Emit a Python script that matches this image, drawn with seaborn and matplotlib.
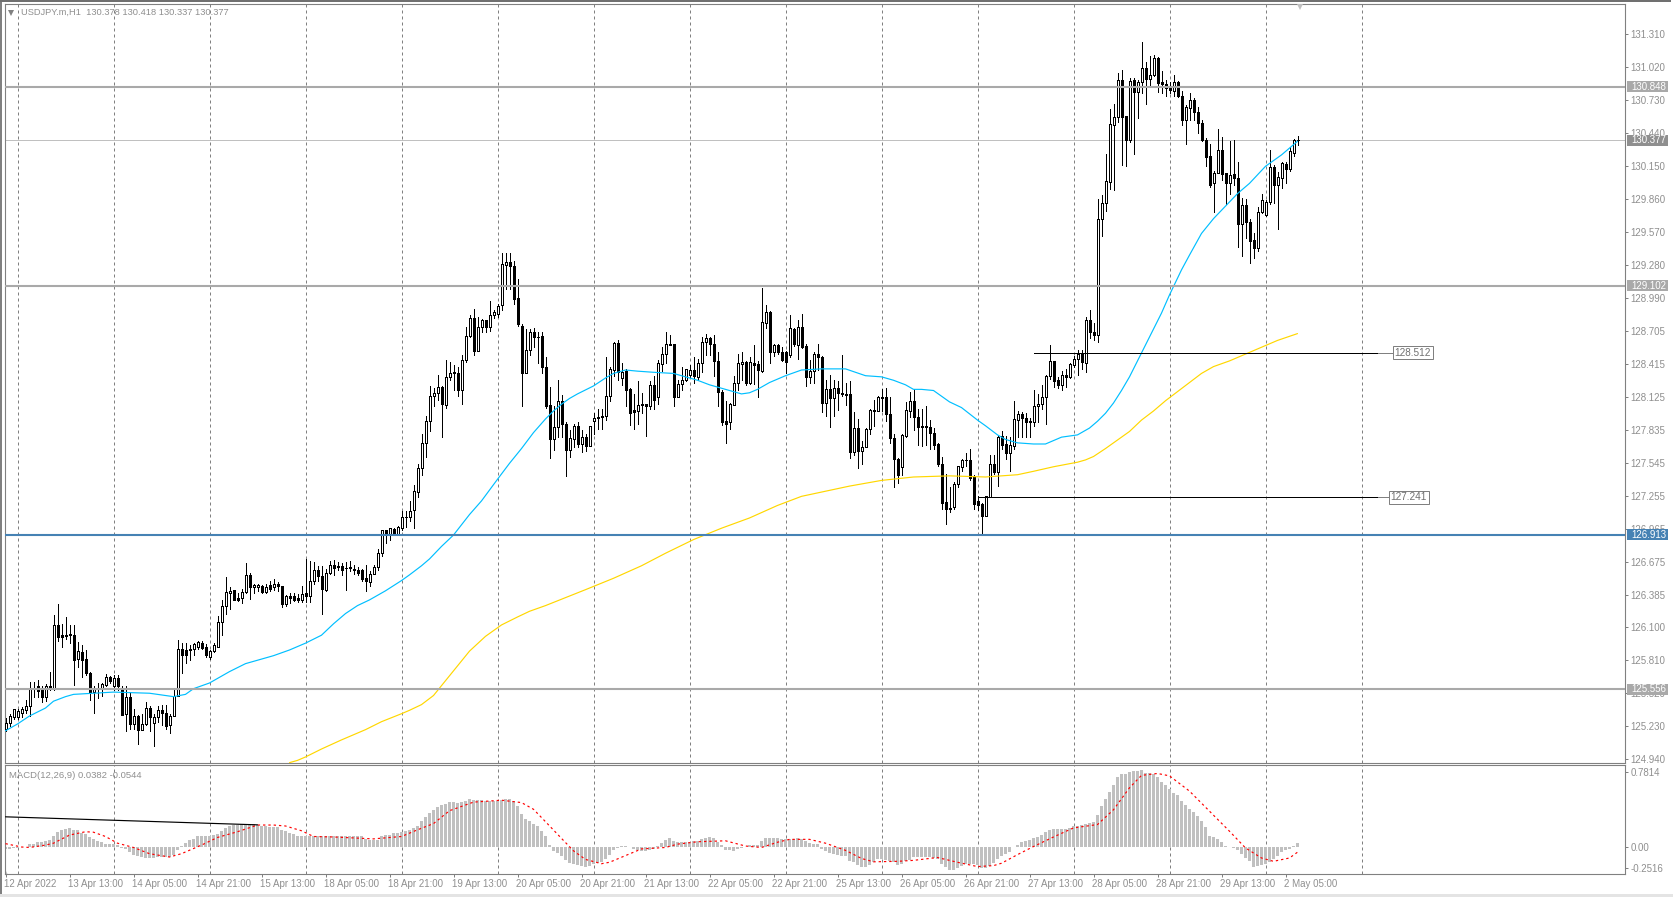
import numpy as np
import pandas as pd
import seaborn as sns
import matplotlib
matplotlib.use("Agg")
import matplotlib.pyplot as plt
from matplotlib.patches import Rectangle
from matplotlib.transforms import ScaledTranslation

# USDJPY.m H1 candles
opens = [125.21,125.26,125.31,125.31,125.35,125.37,125.41,125.57,125.58,125.56,
125.49,125.58,125.57,126.12,126.03,126.03,126.04,126.03,125.82,125.88,
125.82,125.70,125.53,125.57,125.57,125.59,125.66,125.58,125.65,125.56,
125.34,125.49,125.25,125.32,125.20,125.25,125.39,125.26,125.31,125.37,
125.35,125.24,125.32,125.50,125.91,125.90,125.91,125.91,125.93,125.96,
125.93,125.84,125.89,125.93,126.15,126.29,126.40,126.43,126.36,126.36,
126.41,126.56,126.45,126.45,126.46,126.41,126.47,126.45,126.48,126.46,
126.30,126.37,126.37,126.36,126.34,126.40,126.37,126.51,126.60,126.55,
126.43,126.58,126.65,126.63,126.64,126.62,126.63,126.61,126.60,126.60,
126.53,126.50,126.57,126.63,126.75,126.95,126.92,126.96,126.92,126.97,
127.07,127.07,127.13,127.29,127.50,127.72,127.91,128.13,128.16,128.21,
128.05,128.30,128.33,128.33,128.18,128.45,128.66,128.82,128.53,128.74,
128.80,128.74,128.84,128.85,128.93,129.28,129.31,129.27,128.99,128.75,
128.33,128.54,128.69,128.65,128.66,128.39,128.05,127.75,127.86,128.09,
127.89,127.66,127.75,127.87,127.71,127.77,127.69,127.91,127.95,127.95,
127.96,128.13,128.36,128.60,128.29,128.35,128.19,128.01,128.00,128.06,
128.06,128.04,128.23,128.12,128.41,128.50,128.59,128.59,128.12,128.24,
128.27,128.32,128.36,128.30,128.42,128.61,128.64,128.59,128.44,128.17,
127.91,127.90,128.05,128.25,128.41,128.43,128.25,128.42,128.41,128.35,
128.77,128.87,128.52,128.58,128.52,128.52,128.49,128.72,128.58,128.74,
128.57,128.30,128.35,128.50,128.47,128.07,128.19,128.11,128.20,128.16,
128.15,128.15,127.64,127.85,127.65,127.68,127.84,128.01,128.00,128.12,
128.12,127.97,127.76,127.58,127.51,127.78,128.00,128.09,127.95,127.87,
127.87,127.86,127.81,127.71,127.53,127.20,127.15,127.16,127.36,127.51,
127.57,127.57,127.42,127.21,127.18,127.08,127.24,127.53,127.46,127.78,
127.71,127.63,127.69,127.92,127.97,127.94,127.91,127.90,128.04,128.06,
128.12,128.31,128.44,128.27,128.23,128.32,128.30,128.40,128.46,128.51,
128.42,128.80,128.69,128.67,129.69,129.83,130.01,130.51,130.58,130.91,
130.59,130.38,130.91,130.80,130.89,131.01,130.92,130.95,131.10,130.89,
130.87,130.84,130.81,130.89,130.77,130.56,130.66,130.73,130.63,130.53,
130.38,130.24,130.00,130.09,130.29,130.09,130.00,130.08,130.05,129.64,
129.81,129.66,129.50,129.43,129.75,129.72,129.84,130.14,129.99,130.05,
130.17,130.13,130.27,130.378]

highs = [125.30,125.34,125.38,125.38,125.40,125.46,125.62,125.62,125.64,125.58,
125.60,125.71,126.21,126.30,126.13,126.19,126.12,126.12,125.97,125.94,
125.90,125.71,125.58,125.61,125.61,125.69,125.67,125.68,125.68,125.58,
125.58,125.53,125.38,125.33,125.34,125.44,125.41,125.34,125.41,125.42,
125.42,125.34,125.57,125.99,125.96,125.96,125.94,125.96,125.98,125.98,
125.95,125.90,125.96,126.20,126.34,126.54,126.45,126.43,126.40,126.44,
126.66,126.58,126.48,126.48,126.47,126.48,126.51,126.52,126.50,126.46,
126.38,126.40,126.40,126.39,126.46,126.70,126.68,126.67,126.64,126.64,
126.61,126.68,126.69,126.67,126.66,126.67,126.68,126.65,126.63,126.61,
126.65,126.59,126.65,126.79,126.95,126.95,126.97,126.97,126.99,127.12,
127.12,127.21,127.35,127.53,127.80,127.96,128.22,128.20,128.32,128.22,
128.45,128.43,128.40,128.39,128.49,128.74,128.84,128.90,128.83,128.81,
128.80,128.97,128.89,128.94,129.39,129.39,129.39,129.32,129.16,128.76,
128.72,128.72,128.73,128.69,128.69,128.47,128.21,128.04,128.27,128.14,
127.90,127.83,127.89,127.90,127.83,127.80,127.87,127.98,128.02,128.02,
128.47,128.39,128.61,128.62,128.42,128.37,128.20,128.15,128.26,128.16,
128.06,128.26,128.31,128.45,128.56,128.69,128.67,128.59,128.27,128.39,
128.37,128.40,128.47,128.46,128.65,128.68,128.65,128.67,128.52,128.18,
128.09,128.07,128.31,128.50,128.52,128.44,128.47,128.58,128.44,129.08,
128.93,128.88,128.59,128.59,128.56,128.53,128.84,128.73,128.80,128.85,
128.59,128.45,128.52,128.59,128.48,128.27,128.32,128.27,128.26,128.49,
128.25,128.26,127.99,127.93,127.74,127.85,128.02,128.10,128.13,128.19,
128.20,128.12,127.80,127.59,127.80,128.08,128.17,128.19,128.02,128.02,
128.04,127.92,127.85,127.72,127.60,127.45,127.33,127.38,127.52,127.58,
127.63,127.67,127.44,127.25,127.19,127.25,127.61,127.61,127.78,127.82,
127.78,127.77,128.09,128.00,127.99,127.98,127.94,128.18,128.15,128.23,
128.32,128.58,128.44,128.30,128.35,128.37,128.42,128.48,128.54,128.54,
128.83,128.89,128.77,129.86,129.90,130.26,130.65,130.70,130.97,131.00,
130.59,130.93,130.93,130.91,131.24,131.07,131.12,131.13,131.11,130.99,
130.91,130.89,130.95,130.90,130.81,130.69,130.79,130.75,130.67,130.56,
130.40,130.35,130.11,130.48,130.41,130.09,130.37,130.38,130.19,129.87,
129.86,129.69,129.56,129.79,129.91,129.85,130.29,130.16,130.10,130.19,
130.19,130.32,130.39,130.418]

lows = [125.19,125.23,125.29,125.29,125.31,125.35,125.32,125.49,125.49,125.44,
125.45,125.55,125.55,125.98,125.93,126.00,125.96,125.59,125.75,125.66,
125.68,125.46,125.35,125.48,125.50,125.58,125.61,125.55,125.55,125.33,
125.19,125.21,125.21,125.07,125.20,125.24,125.19,125.06,125.27,125.24,
125.21,125.17,125.32,125.50,125.70,125.79,125.81,125.86,125.91,125.91,
125.84,125.82,125.88,125.93,126.03,126.22,126.26,126.34,126.33,126.31,
126.40,126.35,126.40,126.42,126.40,126.40,126.42,126.43,126.42,126.28,
126.29,126.31,126.33,126.32,126.32,126.32,126.32,126.48,126.51,126.22,
126.42,126.57,126.56,126.60,126.56,126.43,126.59,126.57,126.56,126.51,
126.42,126.46,126.57,126.60,126.73,126.84,126.87,126.91,126.92,126.95,
126.98,127.03,126.97,127.24,127.44,127.60,127.82,128.04,128.10,127.77,
128.03,128.27,128.18,128.13,128.06,128.43,128.65,128.49,128.53,128.69,
128.69,128.70,128.82,128.83,128.89,129.07,129.07,128.94,128.75,128.04,
128.33,128.49,128.56,128.42,128.33,128.03,127.59,127.66,127.77,127.77,
127.43,127.60,127.68,127.68,127.64,127.65,127.69,127.80,127.84,127.84,
127.92,128.09,128.31,128.27,128.23,128.04,127.88,127.84,127.89,127.98,
127.78,128.02,128.02,128.06,128.35,128.42,128.58,128.04,128.12,128.18,
128.26,128.30,128.25,128.27,128.34,128.49,128.49,128.31,128.04,127.88,
127.72,127.84,128.05,128.18,128.27,128.23,128.24,128.24,128.12,128.34,
128.73,128.42,128.48,128.50,128.44,128.33,128.47,128.57,128.46,128.55,
128.22,128.25,128.25,128.36,127.99,127.96,127.86,127.96,128.01,128.13,
128.05,127.59,127.61,127.50,127.53,127.68,127.80,127.87,128.00,128.00,
127.91,127.72,127.33,127.37,127.44,127.77,127.95,127.83,127.70,127.69,
127.70,127.67,127.67,127.52,127.14,127.01,127.11,127.14,127.33,127.47,
127.52,127.39,127.14,127.13,126.91,127.08,127.24,127.45,127.34,127.67,
127.58,127.47,127.67,127.77,127.77,127.77,127.77,127.87,127.90,128.02,
127.89,128.28,128.21,128.20,128.18,128.21,128.29,128.39,128.32,128.37,
128.34,128.64,128.62,128.61,129.54,129.76,129.95,129.94,130.54,130.16,
130.15,130.36,130.26,130.57,130.79,130.70,130.86,130.94,130.80,130.79,
130.77,130.79,130.77,130.76,130.51,130.35,130.56,130.56,130.44,130.37,
130.15,129.97,129.75,130.09,130.03,129.82,129.91,129.99,129.44,129.36,
129.52,129.30,129.34,129.41,129.74,129.71,129.82,129.83,129.60,129.96,
130.00,130.11,130.24,130.337]

closes = [125.26,125.32,125.38,125.36,125.38,125.41,125.57,125.57,125.54,125.49,
125.58,125.57,126.12,126.01,126.01,126.02,126.03,125.81,125.89,125.81,
125.70,125.53,125.57,125.57,125.60,125.66,125.63,125.65,125.58,125.33,
125.49,125.25,125.32,125.20,125.25,125.39,125.31,125.31,125.37,125.35,
125.23,125.32,125.50,125.91,125.86,125.86,125.90,125.95,125.97,125.92,
125.86,125.89,125.94,126.15,126.29,126.41,126.42,126.34,126.34,126.41,
126.56,126.45,126.47,126.47,126.41,126.45,126.44,126.48,126.46,126.30,
126.37,126.36,126.34,126.34,126.39,126.37,126.51,126.60,126.55,126.44,
126.58,126.65,126.62,126.64,126.60,126.62,126.62,126.60,126.58,126.52,
126.51,126.57,126.63,126.75,126.95,126.91,126.97,126.92,126.98,127.07,
127.07,127.12,127.30,127.50,127.72,127.91,128.13,128.16,128.21,128.06,
128.30,128.33,128.34,128.18,128.45,128.66,128.82,128.53,128.74,128.80,
128.74,128.84,128.87,128.92,129.29,129.31,129.27,128.98,128.76,128.33,
128.54,128.69,128.65,128.65,128.39,128.04,127.75,127.86,128.09,127.89,
127.66,127.76,127.87,127.71,127.77,127.69,127.87,127.94,127.94,127.96,
128.13,128.37,128.60,128.34,128.34,128.18,127.98,127.99,128.05,128.05,
128.04,128.23,128.10,128.42,128.50,128.59,128.58,128.12,128.24,128.27,
128.37,128.36,128.31,128.42,128.61,128.64,128.59,128.44,128.17,127.90,
127.89,128.06,128.25,128.42,128.43,128.25,128.43,128.40,128.36,128.78,
128.87,128.52,128.58,128.52,128.45,128.43,128.73,128.59,128.74,128.56,
128.30,128.35,128.50,128.47,128.07,128.19,128.11,128.20,128.16,128.15,
128.14,127.64,127.85,127.65,127.68,127.84,128.01,128.00,128.12,128.11,
127.97,127.76,127.58,127.44,127.79,128.01,128.09,127.95,127.86,127.86,
127.86,127.81,127.70,127.53,127.19,127.14,127.14,127.36,127.52,127.57,
127.57,127.41,127.18,127.17,127.08,127.25,127.53,127.46,127.77,127.70,
127.63,127.70,127.93,127.97,127.94,127.90,127.90,128.04,128.06,128.12,
128.31,128.44,128.26,128.23,128.32,128.30,128.41,128.46,128.50,128.43,
128.80,128.69,128.67,129.69,129.83,130.02,130.52,130.58,130.91,130.58,
130.38,130.90,130.80,130.89,131.01,130.92,130.95,131.10,130.88,130.87,
130.84,130.82,130.89,130.77,130.56,130.67,130.73,130.63,130.53,130.38,
130.23,129.99,130.09,130.29,130.08,130.00,130.07,130.05,129.64,129.81,
129.66,129.49,129.43,129.75,129.85,129.84,130.14,129.99,130.06,130.18,
130.13,130.28,130.38,130.377]

# moving averages, read at a set of bars
ma_fast_bar = [0,3,6,10,12,15,17,22,27,36,42,45,47,51,56,60,64,67,71,75,79,82,85,88,91,95,99,101,104,106,109,112,114,116,119,123,126,129,132,135,137,139,141,143,147,150,152,155,158,162,167,170,173,176,179,184,186,188,191,195,199,204,210,215,219,222,225,227,229,232,234,236,239,243,245,248,250,253,257,260,264,268,271,273,275,277,279,281,284,286,289,291,294,296,299,302,305,308,311,315,319,323]
ma_fast = [125.19,125.25,125.32,125.39,125.45,125.49,125.51,125.52,125.53,125.52,125.49,125.51,125.56,125.61,125.71,125.78,125.82,125.85,125.90,125.96,126.03,126.13,126.22,126.29,126.34,126.42,126.51,126.56,126.64,126.70,126.81,126.91,127.00,127.09,127.21,127.40,127.54,127.67,127.81,127.93,128.00,128.06,128.11,128.15,128.22,128.29,128.33,128.36,128.35,128.34,128.33,128.30,128.27,128.23,128.20,128.15,128.16,128.19,128.25,128.31,128.36,128.37,128.37,128.31,128.30,128.27,128.23,128.19,128.19,128.18,128.13,128.08,128.03,127.92,127.87,127.79,127.75,127.72,127.71,127.71,127.77,127.79,127.85,127.91,127.98,128.07,128.18,128.30,128.51,128.65,128.86,129.02,129.24,129.37,129.56,129.69,129.80,129.91,130.00,130.15,130.25,130.37]

ma_slow_bar = [71,73,75,79,84,90,94,99,101,104,107,110,113,116,120,124,128,131,135,140,145,152,159,165,172,179,186,193,199,203,207,211,219,227,236,245,253,257,262,265,268,270,272,275,278,281,284,287,290,293,296,299,302,306,310,314,318,323]
ma_slow = [124.91,124.93,124.96,125.03,125.11,125.20,125.27,125.34,125.37,125.42,125.50,125.63,125.76,125.89,126.02,126.12,126.19,126.24,126.29,126.36,126.43,126.53,126.64,126.75,126.87,126.97,127.06,127.17,127.25,127.28,127.31,127.34,127.39,127.42,127.43,127.42,127.44,127.47,127.51,127.53,127.55,127.57,127.60,127.67,127.745,127.82,127.92,128.00,128.09,128.17,128.25,128.33,128.39,128.44,128.50,128.56,128.62,128.68]

macd_hist = [-.02,-.02,-.01,-.01,0,0,.03,.035,.05,.05,
.06,.07,.11,.155,.175,.19,.195,.18,.175,.145,
.135,.105,.085,.065,.05,.035,.03,.03,.02,-.01,
-.02,-.05,-.08,-.09,-.105,-.11,-.115,-.11,-.105,-.10,
-.105,-.10,-.08,-.035,.015,.04,.07,.085,.11,.12,
.12,.12,.125,.14,.17,.195,.22,.23,.23,.24,
.245,.245,.24,.23,.225,.22,.21,.21,.205,.18,
.17,.145,.135,.12,.11,.11,.11,.11,.115,.115,
.115,.115,.115,.115,.115,.115,.115,.115,.11,.11,
.08,.07,.07,.075,.11,.125,.13,.15,.15,.155,
.17,.175,.195,.225,.27,.315,.36,.39,.42,.435,
.45,.47,.47,.465,.47,.485,.50,.49,.49,.49,
.48,.48,.48,.48,.495,.505,.505,.48,.43,.35,
.295,.275,.24,.22,.17,.11,.02,-.04,-.065,-.095,
-.135,-.165,-.175,-.19,-.20,-.205,-.20,-.18,-.17,-.16,
-.125,-.085,-.03,-.01,.01,.01,0,-.025,-.03,-.04,
-.04,-.03,-.02,.01,.04,.075,.095,.065,.05,.05,
.05,.05,.06,.065,.085,.095,.105,.095,.05,.02,
-.03,-.03,-.04,-.025,-.01,-.005,.02,.02,.02,.065,
.095,.095,.095,.095,.085,.08,.085,.085,.095,.08,
.06,.04,.03,.03,-.02,-.04,-.065,-.075,-.085,-.095,
-.095,-.15,-.16,-.19,-.21,-.21,-.19,-.16,-.125,-.125,
-.135,-.15,-.16,-.19,-.18,-.15,-.135,-.105,-.105,-.105,
-.105,-.105,-.115,-.125,-.18,-.21,-.24,-.24,-.22,-.20,
-.18,-.18,-.18,-.19,-.22,-.22,-.20,-.17,-.125,-.095,
-.075,-.05,0,.025,.055,.065,.075,.09,.105,.125,
.155,.18,.19,.19,.19,.19,.20,.215,.215,.23,
.245,.255,.26,.34,.43,.50,.58,.645,.735,.76,
.765,.785,.795,.795,.805,.78,.77,.765,.73,.68,
.645,.61,.57,.54,.48,.435,.40,.37,.32,.275,
.21,.12,.105,.08,.05,.015,0,-.015,-.035,-.075,
-.115,-.15,-.205,-.195,-.185,-.175,-.155,-.125,-.09,-.055,
-.035,-.02,.01,.0382]

signal_bar = [0,4,6,10,12,16,20,22,25,28,32,36,41,44,49,53,58,63,67,70,74,77,82,92,99,103,107,111,117,124,129,132,135,139,142,145,149,151,155,159,165,168,173,180,185,189,193,196,201,205,210,214,217,223,227,233,238,243,247,249,253,257,262,267,273,277,281,284,288,291,296,301,306,310,314,317,321,323]
signal = [.035,0,-.005,.02,.04,.125,.16,.155,.11,.04,-.005,-.07,-.105,-.07,.02,.10,.16,.23,.23,.22,.17,.11,.105,.085,.11,.18,.245,.38,.47,.49,.465,.395,.265,.09,-.04,-.13,-.175,-.16,-.09,-.02,-.005,.03,.055,.065,.01,-.005,.05,.08,.08,.04,-.035,-.12,-.155,-.15,-.14,-.11,-.16,-.205,-.195,-.17,-.08,.005,.105,.20,.235,.39,.62,.75,.77,.745,.585,.375,.165,-.01,-.115,-.15,-.115,-.0544]

# old trendline sitting in the MACD window
macd_trend_bar = [0, 63]
macd_trend = [0.316, 0.232]

price_ticks = [131.310,131.020,130.730,130.440,130.150,129.860,129.570,129.280,128.990,128.705,128.415,128.125,127.835,127.545,127.255,126.965,126.675,126.385,126.100,125.810,125.520,125.230,124.940]
macd_ticks = [0.7814, 0.0, -0.22]
macd_tick_labels = ["0.7814", "0.00", "-0.2516"]
time_labels = ["12 Apr 2022","13 Apr 13:00","14 Apr 05:00","14 Apr 21:00","15 Apr 13:00","18 Apr 05:00","18 Apr 21:00","19 Apr 13:00","20 Apr 05:00","20 Apr 21:00","21 Apr 13:00","22 Apr 05:00","22 Apr 21:00","25 Apr 13:00","26 Apr 05:00","26 Apr 21:00","27 Apr 13:00","28 Apr 05:00","28 Apr 21:00","29 Apr 13:00","2 May 05:00"]

levels = [130.848, 129.102, 126.913, 125.556]
level_colors = ["#a9a9a9", "#a9a9a9", "#4682b4", "#a9a9a9"]
last_price = 130.377
trend_levels = [128.512, 127.241]
trend_start = [257, 243]
trend_box = [347, 346]

W, H = 1673, 897
PX = 0.72  # one pixel in points at dpi 100
GREY = "#808080"
TXT = "#8f8f8f"

sns.set_style("white")
plt.rcParams["font.family"] = ["Liberation Sans", "DejaVu Sans"]
plt.rcParams["font.size"] = 7

fig = plt.figure(figsize=(W / 100, H / 100), dpi=100)
ax = fig.add_axes([5 / W, 1 - 763 / H, 1620 / W, 759 / H])
ax2 = fig.add_axes([5 / W, 1 - 874 / H, 1620 / W, 109 / H])

candles = pd.DataFrame({"open": opens, "high": highs, "low": lows, "close": closes})
candles["bar"] = candles.index
up = candles[candles.close >= candles.open]
down = candles[candles.close < candles.open]

ax.vlines(candles.bar, candles.low, candles.high, color="black", lw=PX, zorder=3, antialiased=False)
ax.bar(up.bar, up.close - up.open, bottom=up.open, width=0.5, facecolor="white", edgecolor="black", lw=PX, zorder=4, antialiased=False)
ax.bar(down.bar, down.open - down.close, bottom=down.close, width=0.5, facecolor="black", edgecolor="black", lw=PX, zorder=4, antialiased=False)

sns.lineplot(x=ma_fast_bar, y=ma_fast, color="#00bfff", lw=0.85, ax=ax, zorder=5, errorbar=None)
sns.lineplot(x=ma_slow_bar, y=ma_slow, color="#ffd700", lw=0.85, ax=ax, zorder=5, errorbar=None)

for lev, col in zip(levels, level_colors):
    ax.axhline(lev, color=col, lw=1.5, zorder=6)
ax.axhline(last_price, color="#c0c0c0", lw=PX, zorder=2)

for lev, start, box in zip(trend_levels, trend_start, trend_box):
    ax.hlines(lev, start, 343, color="black", lw=PX, zorder=6, antialiased=False)
    ax.hlines(lev, 343, box, color=GREY, lw=PX, zorder=6, antialiased=False)
    ax.text(box + 0.3, lev, f"{lev:.3f}", ha="left", va="center", fontsize=7.2, color="#707070", zorder=8,
            bbox=dict(facecolor="white", edgecolor=GREY, lw=PX, pad=1.2))

# price boxes on the axis
box_tf = ax.get_yaxis_transform()
box_list = [(130.848, "#a9a9a9"), (129.102, "#a9a9a9"), (126.913, "#4682b4"), (125.556, "#a9a9a9"), (last_price, "#8f8f8f")]
for val, col in box_list:
    ax.add_patch(Rectangle((1.0012, val - 0.048), 0.0253, 0.096, transform=box_tf, facecolor=col, edgecolor="none", clip_on=False, zorder=9))
    ax.text(1.0037, val, f"{val:.3f}", transform=box_tf, ha="left", va="center", color="white", fontsize=7, zorder=10, clip_on=False)

ax.set_xlim(-0.125, 404.875)
ax.set_ylim(124.907, 131.576)
ax.set_yticks(price_ticks)
ax.set_yticklabels([f"{p:.3f}" for p in price_ticks])
ax.yaxis.tick_right()
ax.tick_params(axis="y", right=True, left=False, length=2.5, width=PX, pad=1.5, color=GREY, labelcolor=TXT, labelsize=7)
ax.set_xticks(np.arange(3, 340, 24), minor=True)
ax.set_xticks([])
ax.tick_params(axis="x", which="both", length=0, bottom=False, labelbottom=False)
ax.grid(False)
ax.grid(True, axis="x", which="minor", color=GREY, lw=PX, ls=(0, (3, 3)))
ax.set_axisbelow(True)
ax.set_xlabel("")
ax.set_ylabel("")

ax.text(15.5 / 1620, 1 - 8.5 / 759, "USDJPY.m,H1  130.378 130.418 130.337 130.377", transform=ax.transAxes,
        ha="left", va="center", fontsize=6.7, color=TXT, zorder=9)
ax.plot([6 / 1620], [1 - 8.5 / 759], marker="v", ms=4, color=GREY, mew=0, transform=ax.transAxes, zorder=9)
ax.plot([1295 / 1620], [1 - 2.5 / 759], marker="v", ms=5, color="#c0c0c0", mew=0, transform=ax.transAxes, zorder=9, clip_on=False)

# MACD window
hist_df = pd.DataFrame({"bar": np.arange(len(macd_hist)), "value": macd_hist})
sns.barplot(data=hist_df, x="bar", y="value", native_scale=True, width=0.75, color="#c0c0c0", saturation=1, errorbar=None, linewidth=0, ax=ax2)
sns.lineplot(x=signal_bar, y=signal, color="#ff0000", lw=0.85, ls=(0, (2, 2.5)), ax=ax2, zorder=4, errorbar=None)
sns.lineplot(x=macd_trend_bar, y=macd_trend, color="black", lw=0.85, ax=ax2, zorder=4, errorbar=None)

ax2.set_xlim(-0.125, 404.875)
ax2.set_ylim(-0.2827, 0.8586)
ax2.set_yticks(macd_ticks)
ax2.set_yticklabels(macd_tick_labels)
ax2.yaxis.tick_right()
ax2.tick_params(axis="y", right=True, left=False, length=2.5, width=PX, pad=1.5, color=GREY, labelcolor=TXT, labelsize=7)
ax2.set_xticks(np.arange(len(time_labels)) * 16)
ax2.set_xticklabels(time_labels, ha="left")
ax2.tick_params(axis="x", which="major", bottom=True, length=2.5, width=PX, pad=1, color=GREY, labelcolor=TXT, labelsize=7)
shift_left = ScaledTranslation(-1.5 / 100, 0, fig.dpi_scale_trans)
for lab in ax2.get_xticklabels():
    lab.set_transform(lab.get_transform() + shift_left)
ax2.set_xticks(np.arange(3, 340, 24), minor=True)
ax2.tick_params(axis="x", which="minor", length=0)
ax2.grid(False)
ax2.grid(True, axis="x", which="minor", color=GREY, lw=PX, ls=(0, (3, 3)))
ax2.set_axisbelow(True)
ax2.set_xlabel("")
ax2.set_ylabel("")
ax2.text(4 / 1620, 1 - 10 / 109, "MACD(12,26,9) 0.0382 -0.0544", transform=ax2.transAxes, ha="left", va="center", fontsize=6.8, color=TXT, zorder=9)
ax2.plot([0.0], [0.012], marker="^", ms=6, color="#c0c0c0", mew=0, transform=ax2.transAxes, zorder=2)

for a in (ax, ax2):
    for sp in a.spines.values():
        sp.set_color(GREY)
        sp.set_linewidth(0.8)
        sp.set_visible(True)

# window chrome around the chart
fig.add_artist(Rectangle((0, 0), 2 / W, 1, transform=fig.transFigure, facecolor=GREY, edgecolor="none"))
fig.add_artist(Rectangle((0, 1 - 2 / H), 1671 / W, 2 / H, transform=fig.transFigure, facecolor="#707070", edgecolor="none"))
fig.add_artist(Rectangle((0, 0), 1, 3 / H, transform=fig.transFigure, facecolor="#e4e4e4", edgecolor="none"))

fig.savefig("out.png", dpi=100)
